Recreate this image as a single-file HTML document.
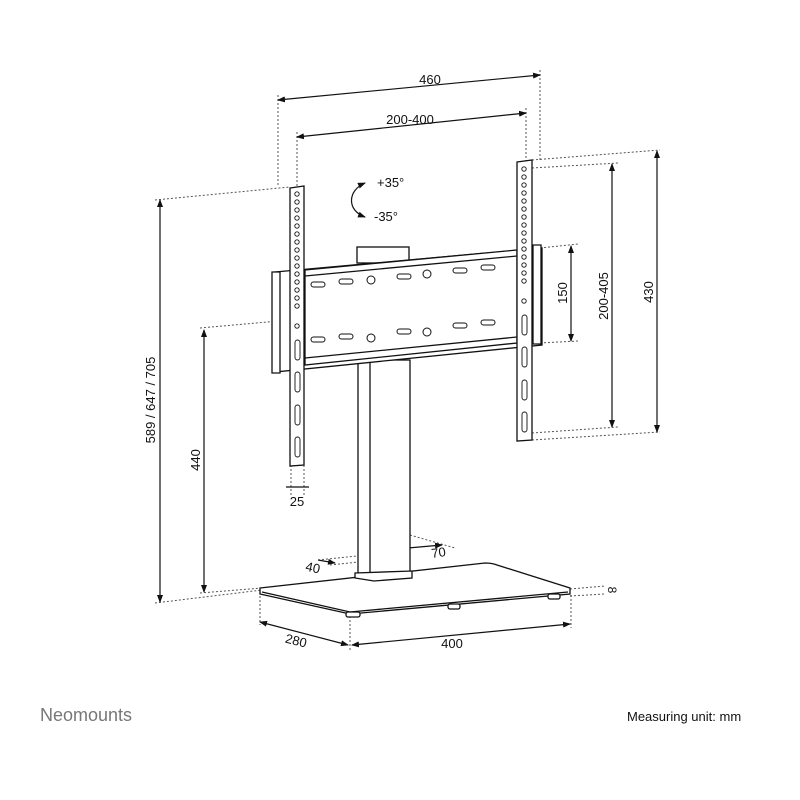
<!DOCTYPE html>
<html><head><style>
html,body{margin:0;padding:0;background:#fff;}
svg{display:block;}
text{font-family:"Liberation Sans",sans-serif;fill:#111;}
</style></head><body>
<svg width="800" height="800" viewBox="0 0 800 800" xmlns="http://www.w3.org/2000/svg">
<defs>
<marker id="a" markerWidth="8" markerHeight="8" refX="7" refY="4" orient="auto-start-reverse" markerUnits="userSpaceOnUse">
<path d="M0,1 L8,4 L0,7 Z" fill="#111"/></marker>
</defs>
<g stroke="#555" stroke-width="1" stroke-dasharray="2,2" fill="none">
<line x1="278" y1="95" x2="278" y2="185"/>
<line x1="540" y1="70" x2="540" y2="160"/>
<line x1="297" y1="132" x2="297" y2="190"/>
<line x1="526" y1="108" x2="526" y2="165"/>
<line x1="532" y1="160" x2="660" y2="150"/>
<line x1="532" y1="168" x2="618" y2="163"/>
<line x1="540" y1="248" x2="578" y2="244"/>
<line x1="540" y1="343" x2="578" y2="341"/>
<line x1="532" y1="433" x2="618" y2="427"/>
<line x1="532" y1="440" x2="660" y2="432"/>
<line x1="155" y1="200" x2="290" y2="187"/>
<line x1="200" y1="328" x2="290" y2="320"/>
<line x1="155" y1="603" x2="262" y2="590"/>
<line x1="200" y1="593" x2="262" y2="588"/>
<line x1="291" y1="465" x2="291" y2="495"/>
<line x1="304" y1="465" x2="304" y2="495"/>
<line x1="260" y1="592" x2="260" y2="625"/>
<line x1="350" y1="616" x2="350" y2="650"/>
<line x1="571" y1="595" x2="571" y2="628"/>
<line x1="570" y1="589" x2="605" y2="586"/>
<line x1="570" y1="596" x2="605" y2="594"/>
<line x1="372" y1="540" x2="410" y2="546"/>
<line x1="410" y1="535" x2="455" y2="548"/>
<line x1="318" y1="560" x2="357" y2="556"/>
<line x1="330" y1="565" x2="368" y2="561"/>
</g>
<g stroke="#111" stroke-width="1.2" fill="none">
<line x1="278" y1="100" x2="540" y2="75" marker-start="url(#a)" marker-end="url(#a)"/>
<line x1="297" y1="137" x2="526" y2="113" marker-start="url(#a)" marker-end="url(#a)"/>
<line x1="160" y1="200" x2="160" y2="602" marker-start="url(#a)" marker-end="url(#a)"/>
<line x1="204" y1="330" x2="204" y2="592" marker-start="url(#a)" marker-end="url(#a)"/>
<line x1="571" y1="246" x2="571" y2="341" marker-start="url(#a)" marker-end="url(#a)"/>
<line x1="612" y1="164" x2="612" y2="427" marker-start="url(#a)" marker-end="url(#a)"/>
<line x1="657" y1="151" x2="657" y2="432" marker-start="url(#a)" marker-end="url(#a)"/>
<line x1="286" y1="487" x2="309" y2="487"/>
<line x1="260" y1="622" x2="348" y2="645" marker-start="url(#a)" marker-end="url(#a)"/>
<line x1="352" y1="645" x2="570" y2="624" marker-start="url(#a)" marker-end="url(#a)"/>
<line x1="408" y1="548" x2="442" y2="545" marker-end="url(#a)"/>
<line x1="318" y1="560" x2="335" y2="563" marker-end="url(#a)"/>
<path d="M365,183 C348,190 346,210 365,217" marker-start="url(#a)" marker-end="url(#a)"/>
</g>
<g stroke="#111" stroke-width="1.3" fill="#fff">
<path d="M260,588 L485,563 Q492,563 497,565 L570,588 L570,594 L350,614 L260,594 Z"/>
<path d="M262,592 L350,612 L568,592" fill="none"/>
<rect x="346" y="612" width="14" height="5" rx="2"/>
<rect x="448" y="604" width="12" height="5" rx="2"/>
<rect x="548" y="594" width="12" height="5" rx="2"/>
<rect x="358" y="360" width="52" height="215"/>
<line x1="370" y1="360" x2="370" y2="575"/>
<path d="M355,573 L412,571 L412,578 L374,581 L355,578 Z"/>
<rect x="357" y="247" width="52" height="16"/>
<path d="M275,272 L542,248 L542,345 L275,372 Z"/>
<path d="M305,270 L517,250 L517,343 L305,365 Z"/>
<path d="M305,276 L517,256 M305,358 L517,337" fill="none"/>
<path d="M272,272 L272,373 L280,373 L280,272 Z"/>
<path d="M533,245 L541,245 L541,344 L533,344 Z"/>
<path d="M290,188 L304,186 L304,465 L290,466 Z"/>
<path d="M517,162 L532,160 L532,440 L517,441 Z"/>
</g>
<g fill="#fff" stroke="#111" stroke-width="1">
<g id="slots">
<rect x="311" y="282" width="14" height="5" rx="2.5"/><rect x="339" y="279" width="14" height="5" rx="2.5"/>
<rect x="397" y="274" width="14" height="5" rx="2.5"/><rect x="453" y="268" width="14" height="5" rx="2.5"/><rect x="481" y="265" width="14" height="5" rx="2.5"/>
</g>
<use href="#slots" transform="translate(0,55)"/>
<circle cx="371" cy="280" r="4"/><circle cx="427" cy="274" r="4"/>
<circle cx="371" cy="338" r="4"/><circle cx="427" cy="332" r="4"/>
</g>
<g fill="#fff" stroke="#111" stroke-width="0.9">
<g id="holes">
<circle cx="297" cy="194" r="2.2"/><circle cx="297" cy="202" r="2.2"/><circle cx="297" cy="210" r="2.2"/><circle cx="297" cy="218" r="2.2"/><circle cx="297" cy="226" r="2.2"/><circle cx="297" cy="234" r="2.2"/><circle cx="297" cy="242" r="2.2"/><circle cx="297" cy="250" r="2.2"/><circle cx="297" cy="258" r="2.2"/><circle cx="297" cy="266" r="2.2"/><circle cx="297" cy="274" r="2.2"/><circle cx="297" cy="282" r="2.2"/><circle cx="297" cy="290" r="2.2"/><circle cx="297" cy="298" r="2.2"/><circle cx="297" cy="306" r="2.2"/><circle cx="297" cy="326" r="2.2"/>
<rect x="295" y="340" width="5" height="20" rx="2.5"/><rect x="295" y="372" width="5" height="20" rx="2.5"/><rect x="295" y="405" width="5" height="20" rx="2.5"/><rect x="295" y="437" width="5" height="20" rx="2.5"/>
</g>
<use href="#holes" transform="translate(227,-25)"/>
</g>
<text x="430" y="84" font-size="13" text-anchor="middle">460</text>
<text x="410" y="124" font-size="13" text-anchor="middle">200-400</text>
<text x="377" y="187" font-size="13">+35°</text>
<text x="374" y="221" font-size="13">-35°</text>
<text x="297" y="506" font-size="13" text-anchor="middle">25</text>
<text x="432" y="558" font-size="13" transform="rotate(-8 432 558)">70</text>
<text x="312" y="572" font-size="13" text-anchor="middle" transform="rotate(12 312 572)">40</text>
<text x="295" y="645" font-size="13" text-anchor="middle" transform="rotate(14 295 645)">280</text>
<text x="452" y="648" font-size="13" text-anchor="middle">400</text>
<text x="0" y="0" font-size="13" text-anchor="middle" transform="translate(155,400) rotate(-90)">589 / 647 / 705</text>
<text x="0" y="0" font-size="13" text-anchor="middle" transform="translate(200,460) rotate(-90)">440</text>
<text x="0" y="0" font-size="13" text-anchor="middle" transform="translate(567,293) rotate(-90)">150</text>
<text x="0" y="0" font-size="13" text-anchor="middle" transform="translate(608,296) rotate(-90)">200-405</text>
<text x="0" y="0" font-size="13" text-anchor="middle" transform="translate(653,292) rotate(-90)">430</text>
<text x="0" y="0" font-size="12" text-anchor="middle" transform="translate(608,590) rotate(90)">8</text>
<text x="40" y="721" font-size="18" style="fill:#777">Neomounts</text>
<text x="627" y="721" font-size="13">Measuring unit: mm</text>
</svg>
</body></html>
